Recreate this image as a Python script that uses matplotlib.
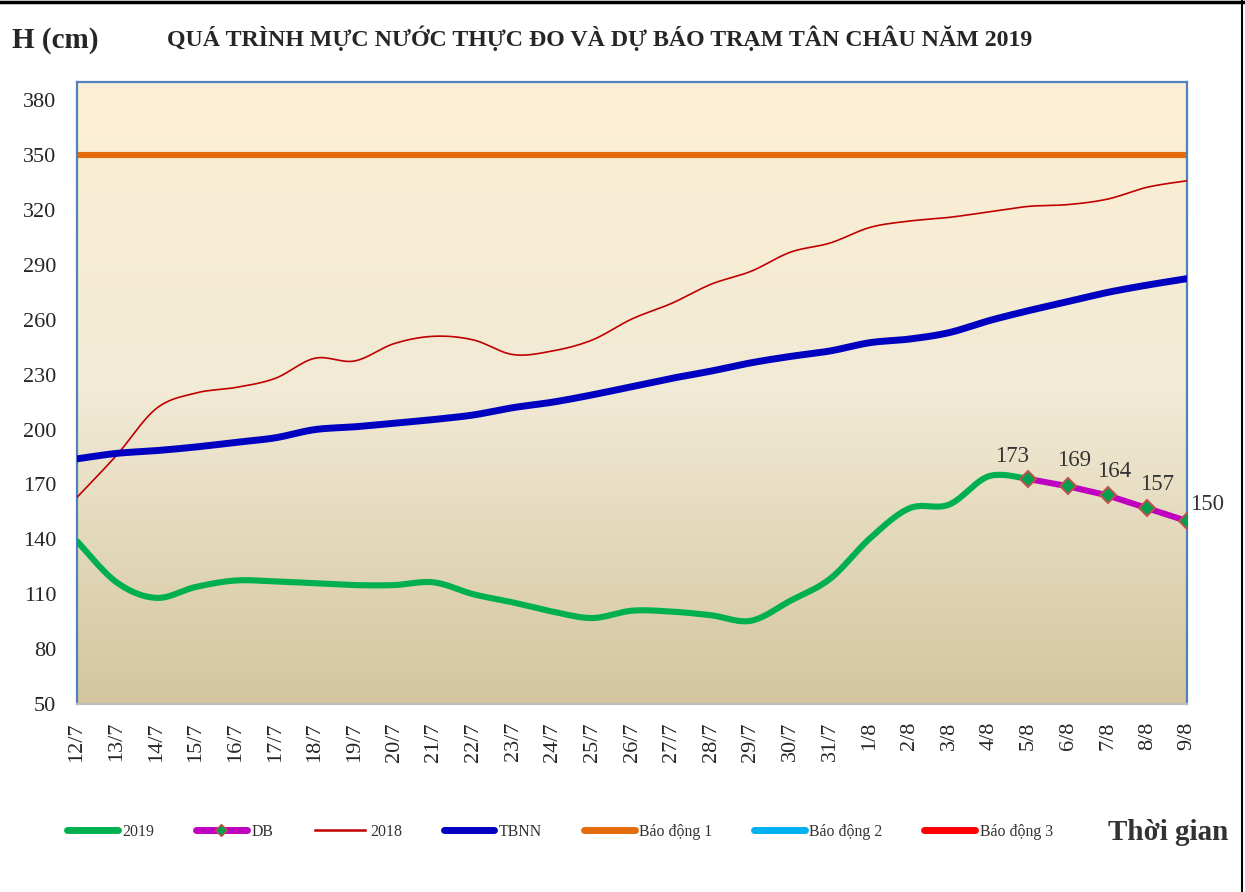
import numpy as np
import matplotlib
matplotlib.use("Agg")
import matplotlib.pyplot as plt
from matplotlib.lines import Line2D
from matplotlib.colors import LinearSegmentedColormap

# ---------------- data ----------------
dates = ["12/7", "13/7", "14/7", "15/7", "16/7", "17/7", "18/7", "19/7", "20/7",
         "21/7", "22/7", "23/7", "24/7", "25/7", "26/7", "27/7", "28/7", "29/7",
         "30/7", "31/7", "1/8", "2/8", "3/8", "4/8", "5/8", "6/8", "7/8", "8/8", "9/8"]

h2019 = [139, 116.5, 108, 114, 117.5, 117, 116, 115, 115, 116.5, 110, 105.5, 100.5,
         97, 101, 100.5, 98.5, 95.5, 106.5, 118.5, 140.5, 157, 159, 174.5, 173]

db_dates = ["5/8", "6/8", "7/8", "8/8", "9/8"]
db_vals = [173, 169, 164, 157, 150]

h2018 = [163, 186, 211.5, 220, 223, 228, 239, 237.5, 247, 251, 249, 241, 243, 249,
         260.5, 269, 279.5, 286.5, 297, 302, 310.5, 314, 316, 319, 322, 323, 326,
         332.5, 336]

tbnn = [184, 187, 188.5, 190.5, 193, 195.5, 200, 201.5, 203.5, 205.5, 208, 212, 215,
        219, 223.5, 228, 232, 236.5, 240, 243, 247.5, 249.5, 253, 259.5, 265, 270,
        275, 279, 282.5]

bd1 = 350
bd2 = 400
bd3 = 450

yticks = [50, 80, 110, 140, 170, 200, 230, 260, 290, 320, 350, 380]

# ---------------- helpers ----------------
def smooth(xs, ys, n=24):
    """Catmull-Rom rendering of a polyline (like Excel 'smoothed line')."""
    xs = np.asarray(xs, float)
    ys = np.asarray(ys, float)
    P = np.column_stack([xs, ys])
    P = np.vstack([P[0], P, P[-1]])
    out = []
    for i in range(1, len(P) - 2):
        p0, p1, p2, p3 = P[i - 1], P[i], P[i + 1], P[i + 2]
        t = np.linspace(0, 1, n, endpoint=False)[:, None]
        c = 0.5 * ((2 * p1) + (-p0 + p2) * t + (2 * p0 - 5 * p1 + 4 * p2 - p3) * t ** 2
                   + (-p0 + 3 * p1 - 3 * p2 + p3) * t ** 3)
        out.append(c)
    out.append(P[-2][None, :])
    out = np.vstack(out)
    return out[:, 0], out[:, 1]

serif = ["Liberation Serif", "DejaVu Serif"]
plt.rcParams["font.family"] = serif

fig = plt.figure(figsize=(12.45, 8.92), dpi=100)
ax = fig.add_axes([77 / 1245, 1 - 704 / 892, 1110 / 1245, 622 / 892])

x = np.arange(len(dates))
idx = {d: i for i, d in enumerate(dates)}
x2019 = x[:len(h2019)]
xdb = np.array([idx[d] for d in db_dates])

ax.set_xlim(0, len(dates) - 1)
ax.set_ylim(50, 390)

# background gradient
cmap = LinearSegmentedColormap.from_list(
    "bg", [(0.0, "#D3C59F"), (0.5, "#F1EAD5"), (1.0, "#FDEFD4")])
grad = np.linspace(0, 1, 256)[:, None]
ax.imshow(grad, extent=[0, len(dates) - 1, 50, 390], origin="lower",
          aspect="auto", cmap=cmap, zorder=0)

# alarm lines
ax.plot(x, [bd1] * len(x), color="#E46C0A", lw=4.4, zorder=2, solid_capstyle="butt")
ax.plot(x, [bd2] * len(x), color="#00B0F0", lw=4.4, zorder=2)
ax.plot(x, [bd3] * len(x), color="#FF0000", lw=4.4, zorder=2)

sx, sy = smooth(x, h2018)
ax.plot(sx, sy, color="#C00000", lw=1.2, zorder=3)
sx, sy = smooth(x, tbnn)
ax.plot(sx, sy, color="#0000C0", lw=5.0, zorder=3)
sx, sy = smooth(x2019, h2019)
ax.plot(sx, sy, color="#00B050", lw=4.4, zorder=4, solid_capstyle="round")
ax.plot(xdb, db_vals, color="#C000C0", lw=4.4, zorder=5,
        marker="D", ms=8, mfc="#00A050", mec="#C0504D", mew=1.4)

# data labels
offs = [(-16, 22), (6, 26), (6, 24), (10, 24), (20, 17)]
for xi, v, (dx, dy) in zip(xdb, db_vals, offs):
    ax.annotate(f"{v:g}", (xi, v), xytext=(dx * 0.72, dy * 0.72),
                textcoords="offset points", ha="center", va="center",
                fontsize=16.5, color="#333333", annotation_clip=False, zorder=6)

# axes styling
for s in ["left", "right", "top"]:
    ax.spines[s].set_color("#4F81BD")
    ax.spines[s].set_linewidth(1.6)
ax.spines["bottom"].set_color("#BFBFBF")
ax.spines["bottom"].set_linewidth(1.6)

ax.set_yticks(yticks)
ax.set_yticklabels([str(v) for v in yticks])
ax.set_xticks(x)
ax.set_xticklabels(dates, rotation=90)
ax.tick_params(axis="y", length=0, pad=15, labelsize=16, colors="#262626")
ax.tick_params(axis="x", length=0, pad=13, labelsize=16, colors="#262626")

# titles
fig.text(12 / 1245, 1 - 40 / 892, "H (cm)", fontsize=21, fontweight="bold",
         ha="left", va="center", color="#262626")
fig.text(600 / 1245, 1 - 38 / 892,
         "QUÁ TRÌNH MỰC NƯỚC THỰC ĐO VÀ DỰ BÁO TRẠM TÂN CHÂU NĂM 2019",
         fontsize=17.2, fontweight="bold", ha="center", va="center", color="#262626")
fig.text(1228 / 1245, 1 - 832 / 892, "Thời gian", fontsize=21, fontweight="bold",
         ha="right", va="center", color="#333333")

# legend
handles = [
    Line2D([], [], color="#00B050", lw=5, solid_capstyle="round"),
    Line2D([], [], color="#C000C0", lw=5, marker="D", ms=6, mfc="#00A050",
           mec="#C0504D", solid_capstyle="round"),
    Line2D([], [], color="#C00000", lw=1.8),
    Line2D([], [], color="#0000C0", lw=5, solid_capstyle="round"),
    Line2D([], [], color="#E46C0A", lw=5, solid_capstyle="round"),
    Line2D([], [], color="#00B0F0", lw=5, solid_capstyle="round"),
    Line2D([], [], color="#FF0000", lw=5, solid_capstyle="round"),
]
labels = ["2019", "DB", "2018", "TBNN", "Báo động 1", "Báo động 2", "Báo động 3"]
fig.legend(handles, labels, loc="center left", bbox_to_anchor=(53 / 1245, 1 - 832 / 892),
           ncol=7, frameon=False, fontsize=11.4, handlelength=3.2, handletextpad=0.3,
           columnspacing=2.62, labelcolor="#333333")

# outer frame (top and right)
fig.add_artist(Line2D([0, 1], [1 - 2 / 892, 1 - 2 / 892], color="black", lw=2.5,
                      transform=fig.transFigure))
fig.add_artist(Line2D([1242 / 1245, 1242 / 1245], [0, 1], color="black", lw=1.5,
                      transform=fig.transFigure))

fig.savefig("out.png", dpi=100)
